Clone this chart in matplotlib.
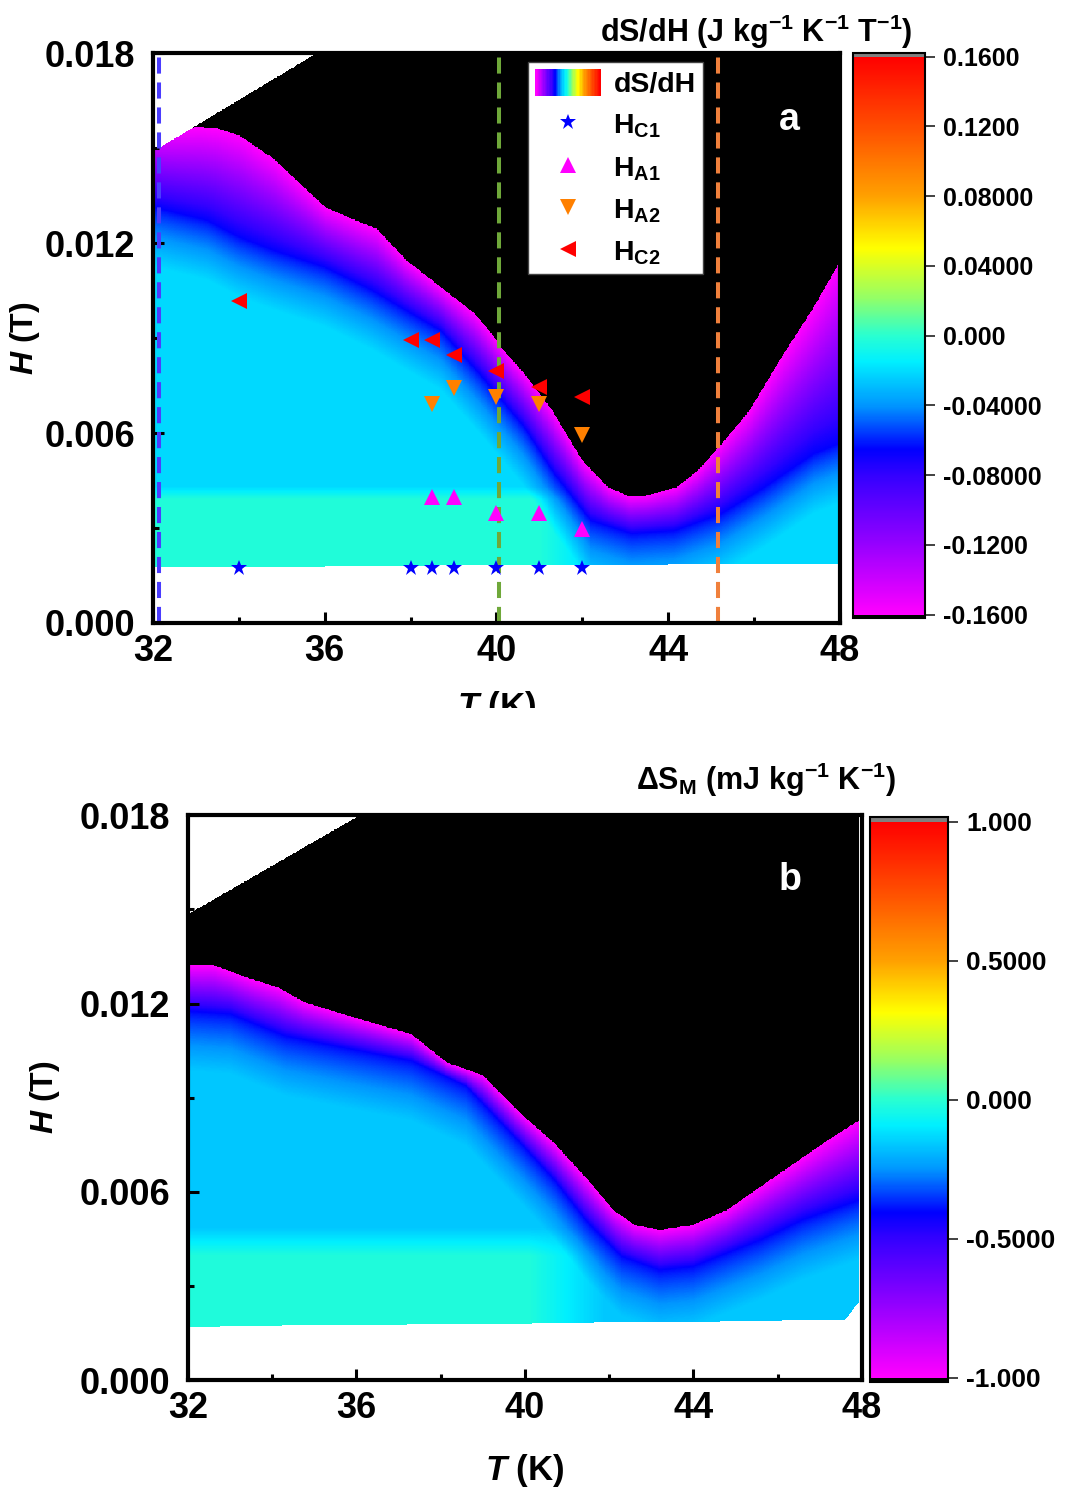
import numpy as np
import matplotlib
matplotlib.use('Agg')
import matplotlib.pyplot as plt
from matplotlib.colors import LinearSegmentedColormap
from matplotlib.legend_handler import HandlerBase
from matplotlib.patches import Rectangle

plt.rcParams['font.family'] = ['Liberation Sans', 'DejaVu Sans']
plt.rcParams['font.weight'] = 'bold'
plt.rcParams['axes.labelweight'] = 'bold'
plt.rcParams['mathtext.fontset'] = 'custom'
plt.rcParams['mathtext.rm'] = 'Liberation Sans:bold'
plt.rcParams['mathtext.bf'] = 'Liberation Sans:bold'
plt.rcParams['mathtext.it'] = 'Liberation Sans:italic:bold'
plt.rcParams['axes.unicode_minus'] = False

# ---------------- data ----------------
# panel a : dS/dH map, boundary of the magenta band (value = colour-scale minimum)
t_edge_a = [32.0, 33.1, 33.5, 34.0, 34.8, 36.0, 36.8, 37.2, 37.9, 38.7, 39.5, 39.95, 40.1,
            40.65, 41.3, 42.0, 42.6, 43.1, 43.5, 44.2, 44.7, 45.25, 45.9, 46.65, 47.4, 48.0]
h_edge_a = [0.01560, 0.01567, 0.01562, 0.01541, 0.01467, 0.01314, 0.01267, 0.01246, 0.01146,
            0.01061, 0.00977, 0.00903, 0.00871, 0.00787, 0.00671, 0.00513, 0.00428, 0.00399,
            0.00402, 0.00428, 0.00481, 0.00565, 0.00671, 0.00840, 0.00998, 0.01140]
# line of pure blue inside the band
t_blue_a = [32.0, 33.25, 34.0, 34.8, 36.0, 37.1, 37.9, 38.7, 39.6, 40.65, 41.35, 42.2, 43.15,
            44.15, 45.25, 46.25, 47.4, 48.0]
h_blue_a = [0.01314, 0.01272, 0.01219, 0.01177, 0.01124, 0.01051, 0.00987, 0.00924, 0.00788,
            0.00618, 0.00471, 0.00323, 0.00282, 0.00291, 0.00345, 0.00428, 0.00534, 0.00566]
# limits of the measured region
t_top_a = [32.0, 35.8]
h_top_a = [0.01490, 0.01800]
t_bot_a = [32.0, 48.0]
h_bot_a = [0.00175, 0.00187]

# panel b : Delta S_M map
t_edge_b = [32.0, 32.6, 33.5, 34.15, 34.75, 36.0, 37.3, 38.15, 39.0, 39.9, 40.7, 41.5, 42.1,
            42.6, 43.2, 44.0, 44.8, 45.6, 46.4, 47.2, 47.95]
h_edge_b = [0.01322, 0.01322, 0.01278, 0.01250, 0.01204, 0.01153, 0.01102, 0.01011, 0.00971,
            0.00849, 0.00754, 0.00637, 0.00541, 0.00494, 0.00478, 0.00494, 0.00541, 0.00616,
            0.00690, 0.00764, 0.00828]
t_blue_b = [32.0, 33.0, 34.3, 36.0, 37.3, 38.6, 39.9, 40.7, 41.5, 42.3, 43.2, 44.0, 44.8, 45.6,
            46.6, 47.95]
h_blue_b = [0.01176, 0.01166, 0.01096, 0.01051, 0.01017, 0.00937, 0.00754, 0.00637, 0.00500,
            0.00393, 0.00350, 0.00361, 0.00404, 0.00446, 0.00510, 0.00573]
t_top_b = [32.0, 36.07]
h_top_b = [0.01485, 0.01800]
t_bot_b = [32.0, 47.6, 47.95]
h_bot_b = [0.00169, 0.00190, 0.00250]

# critical fields (panel a)
t_hc1 = [34, 38, 38.5, 39, 40, 41, 42]
h_hc1 = [0.00175, 0.00175, 0.00175, 0.00175, 0.00175, 0.00175, 0.00175]
t_ha1 = [38.5, 39, 40, 41, 42]
h_ha1 = [0.00397, 0.00397, 0.00346, 0.00346, 0.00296]
t_ha2 = [38.5, 39, 40, 41, 42]
h_ha2 = [0.00692, 0.00743, 0.00713, 0.00692, 0.00595]
t_hc2 = [34, 38, 38.5, 39, 40, 41, 42]
h_hc2 = [0.01017, 0.00895, 0.00895, 0.00845, 0.00795, 0.00745, 0.00715]

t_vlines = [32.14, 40.06, 45.15]
vline_colors = ['#4a3cff', '#6fa83a', '#f0803c']

ticks_a = [-0.16, -0.12, -0.08, -0.04, 0.0, 0.04, 0.08, 0.12, 0.16]
labels_a = ['-0.1600', '-0.1200', '-0.08000', '-0.04000', '0.000', '0.04000', '0.08000',
            '0.1200', '0.1600']
ticks_b = [-1.0, -0.5, 0.0, 0.5, 1.0]
labels_b = ['-1.000', '-0.5000', '0.000', '0.5000', '1.000']

# Origin-like rainbow palette
cmap = LinearSegmentedColormap.from_list('origin_rainbow', [
    (0.0, (1.0, 0.0, 1.0)),
    (0.125, (0.59, 0.0, 1.0)),
    (0.25, (0.2, 0.0, 1.0)),
    (0.296, (0.0, 0.0, 1.0)),
    (0.375, (0.0, 0.59, 1.0)),
    (0.454, (0.0, 0.94, 1.0)),
    (0.5, (0.16, 1.0, 0.82)),
    (0.57, (0.59, 1.0, 0.39)),
    (0.657, (1.0, 1.0, 0.0)),
    (0.75, (1.0, 0.63, 0.0)),
    (0.873, (1.0, 0.31, 0.0)),
    (1.0, (1.0, 0.0, 0.0))], N=512)
cmap.set_under('black')
cmap.set_over('#808080')
cmap.set_bad((1, 1, 1, 0))


def make_map(t_edge, h_edge, t_blue, h_blue, t_top, h_top, t_bot, h_bot, t_end,
             lo, hi, main_pos, strip_pos, h_step, step_w, t_strip, strip_fade):
    tt = np.linspace(32, 48, 801)
    hh = np.linspace(0, 0.018, 901)
    T, H = np.meshgrid(tt, hh)
    he = np.interp(T, t_edge, h_edge)
    hb = np.interp(T, t_blue, h_blue)
    span = hi - lo
    v_blue = lo + 0.296 * span
    v_main = lo + main_pos * span
    v_strip = lo + strip_pos * span
    # magenta -> blue inside the band
    f1 = np.clip((he - H) / (he - hb), 0, 1)
    val = lo + (v_blue - lo) * f1
    # blue -> background below the band
    s = np.clip((h_step - H) / step_w + 0.5, 0, 1) * np.clip((t_strip - T) / strip_fade + 0.5, 0, 1)
    base = v_main + (v_strip - v_main) * s
    f2 = np.clip((hb - H) / 0.0019, 0, 1) ** 0.8
    below = v_blue + (base - v_blue) * f2
    val = np.where(H < hb, below, val)
    val = np.where(H >= he, lo - 1.0, val)
    out = (H > np.interp(T, t_top, h_top)) | (H < np.interp(T, t_bot, h_bot)) | (T > t_end)
    val[out] = np.nan
    return np.ma.masked_invalid(val)


class GradientHandler(HandlerBase):
    def create_artists(self, legend, orig_handle, xdescent, ydescent, width, height,
                       fontsize, trans):
        n = 48
        arts = []
        for i in range(n):
            arts.append(Rectangle((-xdescent + i * width / n, -ydescent), width / n + 0.3, height,
                                  facecolor=orig_handle.cmap(i / (n - 1)), edgecolor='none',
                                  transform=trans))
        return arts


def style_axes(ax):
    ax.set_xlim(32, 48)
    ax.set_ylim(0, 0.018)
    ax.set_xticks([32, 36, 40, 44, 48])
    ax.set_xticks([34, 38, 42, 46], minor=True)
    ax.set_yticks([0, 0.006, 0.012, 0.018])
    ax.set_yticks([0.003, 0.009, 0.015], minor=True)
    ax.set_yticklabels(['0.000', '0.006', '0.012', '0.018'])
    ax.tick_params(which='both', direction='in', width=2.2, labelsize=26)
    ax.tick_params(which='major', length=8)
    ax.tick_params(which='minor', length=4)
    ax.tick_params(axis='x', pad=8)
    ax.tick_params(axis='y', pad=13)
    for sp in ax.spines.values():
        sp.set_linewidth(3)
        sp.set_zorder(5)


def style_cbar(cb, ticks, labels, size):
    cb.set_ticks(ticks)
    cb.set_ticklabels(labels)
    cb.ax.tick_params(direction='out', length=7, width=1.3, labelsize=size, pad=6,
                      color='#333333')
    cb.ax.minorticks_off()
    cb.outline.set_linewidth(1.5)


fig = plt.figure(figsize=(10.8, 14.94), dpi=100)

# ---------------- panel a ----------------
ax1 = fig.add_axes([0.1417, 0.583, 0.636, 0.3815])
cax1 = fig.add_axes([0.790, 0.5863, 0.0667, 0.378])
lo_a, hi_a = -0.16, 0.16
z_a = make_map(t_edge_a, h_edge_a, t_blue_a, h_blue_a, t_top_a, h_top_a, t_bot_a, h_bot_a,
               48.0, lo_a, hi_a, 0.435, 0.492, 0.0041, 0.0004, 41.6, 1.2)
im1 = ax1.imshow(z_a, extent=[32, 48, 0, 0.018], origin='lower', aspect='auto', cmap=cmap,
                 vmin=lo_a, vmax=hi_a, interpolation='nearest', zorder=1)
for tv, c in zip(t_vlines, vline_colors):
    ax1.axvline(tv, color=c, lw=2.9, ls=(0, (4, 2.2)), zorder=2)
l1, = ax1.plot(t_hc1, h_hc1, ls='none', marker='*', ms=12, color='#0000ff', mew=0, zorder=3)
l2, = ax1.plot(t_ha1, h_ha1, ls='none', marker='^', ms=12, color='#ff00ff', mew=0, zorder=3)
l3, = ax1.plot(t_ha2, h_ha2, ls='none', marker='v', ms=12, color='#ff8000', mew=0, zorder=3)
l4, = ax1.plot(t_hc2, h_hc2, ls='none', marker='<', ms=12, color='#ff0000', mew=0, zorder=3)
style_axes(ax1)
ax1.set_xlabel(r'$T$ (K)', fontsize=25)
ax1.xaxis.set_label_coords(0.5, -0.116)
ax1.set_ylabel(r'$H$ (T)', fontsize=23)
ax1.yaxis.set_label_coords(-0.162, 0.5)
leg = ax1.legend([im1, l1, l2, l3, l4],
                 ['dS/dH', r'H$_{\mathrm{C1}}$', r'H$_{\mathrm{A1}}$', r'H$_{\mathrm{A2}}$',
                  r'H$_{\mathrm{C2}}$'],
                 handler_map={im1: GradientHandler()}, loc='upper left',
                 bbox_to_anchor=(0.546, 0.984), borderaxespad=0, fontsize=20.5,
                 handlelength=2.3, handleheight=1.05, handletextpad=0.45, labelspacing=0.45,
                 borderpad=0.25, fancybox=False, framealpha=1, edgecolor='#444444',
                 numpoints=1)
leg.get_frame().set_linewidth(1.0)
leg.set_zorder(6)
ax1.text(0.927, 0.882, 'a', transform=ax1.transAxes, color='white', fontsize=27,
         ha='center', va='center', zorder=6)
cb1 = fig.colorbar(im1, cax=cax1, extend='both', extendrect=True, extendfrac=0.006)
style_cbar(cb1, ticks_a, labels_a, 18)
fig.text(0.700, 0.979, r'dS/dH (J kg$^{\mathrm{-1}}$ K$^{\mathrm{-1}}$ T$^{\mathrm{-1}}$)',
         ha='center', va='center', fontsize=22)

# the original picture cuts the lower half of the first x label
fig.add_artist(Rectangle((0.25, 0.4913), 0.5, 0.0348, transform=fig.transFigure,
                         facecolor='white', edgecolor='none', zorder=20))

# ---------------- panel b ----------------
ax2 = fig.add_axes([0.174, 0.0763, 0.624, 0.378])
cax2 = fig.add_axes([0.8056, 0.0750, 0.0722, 0.378])
lo_b, hi_b = -1.0, 1.0
z_b = make_map(t_edge_b, h_edge_b, t_blue_b, h_blue_b, t_top_b, h_top_b, t_bot_b, h_bot_b,
               47.95, lo_b, hi_b, 0.418, 0.49, 0.0044, 0.0009, 41.0, 1.8)
im2 = ax2.imshow(z_b, extent=[32, 48, 0, 0.018], origin='lower', aspect='auto', cmap=cmap,
                 vmin=lo_b, vmax=hi_b, interpolation='nearest', zorder=1)
style_axes(ax2)
ax2.set_xlabel(r'$T$ (K)', fontsize=25)
ax2.xaxis.set_label_coords(0.5, -0.127)
ax2.set_ylabel(r'$H$ (T)', fontsize=23)
ax2.yaxis.set_label_coords(-0.187, 0.5)
ax2.text(0.893, 0.885, 'b', transform=ax2.transAxes, color='white', fontsize=27,
         ha='center', va='center', zorder=6)
cb2 = fig.colorbar(im2, cax=cax2, extend='both', extendrect=True, extendfrac=0.008)
style_cbar(cb2, ticks_b, labels_b, 19)
fig.text(0.709, 0.478, '\u0394S$_{\\mathrm{M}}$ (mJ kg$^{\\mathrm{-1}}$ K$^{\\mathrm{-1}}$)',
         ha='center', va='center', fontsize=22)

fig.savefig('out.png', dpi=100)
